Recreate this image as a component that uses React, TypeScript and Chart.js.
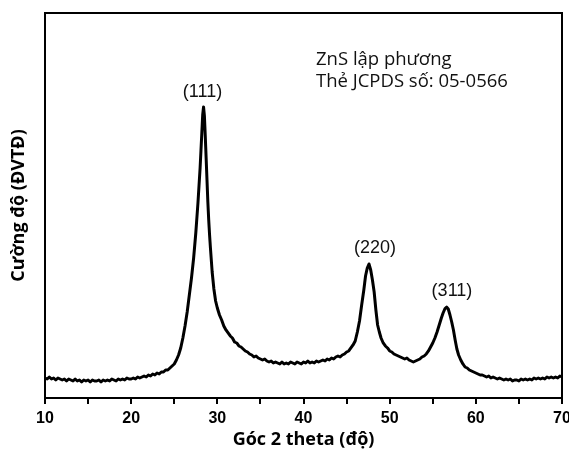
import React, { useEffect, useRef } from "react";
import { Chart, registerables } from "chart.js";

Chart.register(...registerables);

const twoTheta: number[] = [
  10.0, 10.25, 10.5, 10.75, 11.0, 11.25, 11.5, 11.75, 12.0, 12.25, 12.5, 12.75, 13.0, 13.25, 13.5, 13.75,
  14.0, 14.25, 14.5, 14.75, 15.0, 15.25, 15.5, 15.75, 16.0, 16.25, 16.5, 16.75, 17.0, 17.25, 17.5, 17.75,
  18.0, 18.25, 18.5, 18.75, 19.0, 19.25, 19.5, 19.75, 20.0, 20.25, 20.5, 20.75, 21.0, 21.25, 21.5, 21.75,
  22.0, 22.25, 22.5, 22.75, 23.0, 23.25, 23.5, 23.75, 24.0, 24.25, 24.5, 24.75, 25.0, 25.25, 25.5, 25.75,
  26.0, 26.25, 26.5, 26.75, 27.0, 27.25, 27.5, 27.75, 28.0, 28.2, 28.3, 28.4, 28.5, 28.6, 28.7, 28.8,
  28.9, 29.0, 29.1, 29.2, 29.4, 29.6, 29.8, 30.0, 30.25, 30.5, 30.75, 31.0, 31.25, 31.5, 31.75, 32.0, 32.25,
  32.5, 32.75, 33.0, 33.25, 33.5, 33.75, 34.0, 34.25, 34.5, 34.75, 35.0, 35.25, 35.5, 35.75, 36.0, 36.25,
  36.5, 36.75, 37.0, 37.25, 37.5, 37.75, 38.0, 38.25, 38.5, 38.75, 39.0, 39.25, 39.5, 39.75, 40.0, 40.25,
  40.5, 40.75, 41.0, 41.25, 41.5, 41.75, 42.0, 42.25, 42.5, 42.75, 43.0, 43.25, 43.5, 43.75, 44.0, 44.25,
  44.5, 44.75, 45.0, 45.25, 45.5, 45.75, 46.0, 46.25, 46.5, 46.75, 47.0, 47.2, 47.4, 47.6, 47.8, 48.0,
  48.2, 48.4, 48.6, 48.8, 49.0, 49.25, 49.5, 49.75, 50.0, 50.25, 50.5, 50.75, 51.0, 51.25, 51.5, 51.75,
  52.0, 52.25, 52.5, 52.75, 53.0, 53.25, 53.5, 53.75, 54.0, 54.25, 54.5, 54.75, 55.0, 55.25, 55.5, 55.75,
  56.0, 56.2, 56.4, 56.6, 56.8, 57.0, 57.2, 57.4, 57.6, 57.8, 58.0, 58.25, 58.5, 58.75, 59.0, 59.25,
  59.5, 59.75, 60.0, 60.25, 60.5, 60.75, 61.0, 61.25, 61.5, 61.75, 62.0, 62.25, 62.5, 62.75, 63.0, 63.25,
  63.5, 63.75, 64.0, 64.25, 64.5, 64.75, 65.0, 65.25, 65.5, 65.75, 66.0, 66.25, 66.5, 66.75, 67.0, 67.25,
  67.5, 67.75, 68.0, 68.25, 68.5, 68.75, 69.0, 69.25, 69.5, 69.75, 70.0,
];

const intensity: number[] = [
  20, 19, 21, 19, 20, 18, 20, 19, 18, 19, 17, 19, 18, 17, 19, 17,
  18, 16, 18, 17, 18, 16, 18, 17, 17, 18, 16, 18, 17, 18, 17, 19,
  18, 17, 19, 18, 19, 18, 20, 19, 19, 20, 19, 21, 20, 21, 22, 21,
  23, 22, 24, 23, 25, 24, 26, 26, 28, 28, 30, 32, 34, 38, 43, 50,
  60, 72, 86, 103, 120, 140, 165, 195, 230, 265, 283, 291, 282, 262, 240, 218,
  196, 178, 163, 150, 126, 109, 97, 90, 83, 78, 72, 68, 65, 62, 60, 56, 55,
  52, 51, 49, 47, 46, 44, 43, 41, 42, 40, 39, 38, 39, 37, 36, 37,
  35, 36, 35, 34, 36, 34, 35, 34, 36, 35, 34, 36, 35, 34, 36, 35,
  37, 35, 36, 35, 37, 36, 37, 38, 37, 39, 38, 40, 39, 41, 42, 41,
  43, 44, 46, 47, 50, 53, 57, 66, 77, 93, 108, 122, 130, 134, 128, 118,
  106, 88, 73, 66, 60, 55, 52, 50, 47, 46, 44, 43, 42, 41, 40, 39,
  40, 38, 37, 36, 37, 38, 39, 41, 42, 44, 47, 51, 55, 60, 66, 73,
  80, 85, 89, 91, 89, 83, 76, 68, 58, 49, 43, 38, 34, 31, 30, 28,
  27, 26, 25, 24, 23, 23, 22, 21, 22, 20, 21, 20, 19, 20, 19, 18,
  19, 18, 19, 17, 18, 18, 17, 19, 18, 19, 18, 19, 18, 20, 19, 20,
  19, 20, 19, 21, 20, 21, 20, 21, 20, 22, 21,
];

const peakLabels: string[] = ["(111)", "(220)", "(311)"];
const peakLabelX: number[] = [28.28, 48.3, 57.23];
const peakLabelY: number[] = [306, 150, 107];

const infoLines: string[] = ["ZnS lập phương", "Thẻ JCPDS số: 05-0566"];
const infoX = 41.45;
const infoY: number[] = [333, 311];

const xTitle = "Góc 2 theta (độ)";
const yTitle = "Cường độ (ĐVTĐ)";

const annotationPlugin = {
  id: "xrdAnnotations",
  afterDraw(chart: any) {
    const { ctx, chartArea, scales } = chart;
    const xs = scales.x;
    const ys = scales.y;
    ctx.save();
    ctx.strokeStyle = "#000";
    ctx.lineWidth = 2;
    ctx.beginPath();
    ctx.moveTo(chartArea.left, chartArea.top);
    ctx.lineTo(chartArea.right, chartArea.top);
    ctx.lineTo(chartArea.right, chartArea.bottom);
    ctx.stroke();

    ctx.fillStyle = "#111";
    ctx.font = "18px 'Liberation Sans', Arial, sans-serif";
    ctx.textAlign = "center";
    ctx.textBaseline = "middle";
    peakLabels.forEach((t, i) => {
      ctx.fillText(t, xs.getPixelForValue(peakLabelX[i]), ys.getPixelForValue(peakLabelY[i]));
    });

    ctx.font = "18.5px 'Open Sans', sans-serif";
    ctx.textAlign = "left";
    ctx.textBaseline = "alphabetic";
    infoLines.forEach((t, i) => {
      ctx.fillText(t, xs.getPixelForValue(infoX), ys.getPixelForValue(infoY[i]));
    });
    ctx.restore();
  },
};

export default function App() {
  const ref = useRef<HTMLCanvasElement | null>(null);

  useEffect(() => {
    if (!ref.current) return;
    const points = twoTheta.map((x, i) => ({ x, y: intensity[i] }));
    const chart = new Chart(ref.current, {
      type: "line",
      data: {
        datasets: [
          {
            data: points,
            borderColor: "#000",
            borderWidth: 3,
            borderJoinStyle: "round",
            borderCapStyle: "round",
            pointRadius: 0,
            tension: 0.001,
            fill: false,
          },
        ],
      },
      options: {
        animation: false,
        responsive: false,
        layout: { padding: { left: 0, right: 7, top: 13, bottom: 0 } },
        plugins: {
          legend: { display: false },
          tooltip: { enabled: false },
        },
        scales: {
          x: {
            type: "linear",
            min: 10,
            max: 70,
            afterFit(scale: any) {
              scale.paddingLeft = 0;
              scale.paddingRight = 0;
            },
            border: { display: true, color: "#000", width: 2 },
            grid: {
              display: true,
              drawOnChartArea: false,
              drawTicks: true,
              tickLength: 6,
              color: "#000",
              lineWidth: 2,
            },
            ticks: {
              stepSize: 5,
              autoSkip: false,
              maxRotation: 0,
              padding: 7,
              color: "#000",
              font: { family: "'Liberation Sans', Arial, sans-serif", size: 16, weight: "bold", lineHeight: 1 },
              callback: (v: any) => (Number(v) % 10 === 0 ? String(v) : ""),
            },
            title: {
              display: true,
              text: xTitle,
              color: "#000",
              font: { family: "'Open Sans', sans-serif", size: 18, weight: "bold", lineHeight: 0.6667 },
              padding: { top: 0, bottom: 4 },
            },
          },
          y: {
            min: 0,
            max: 385,
            border: { display: true, color: "#000", width: 2 },
            grid: { display: false, drawTicks: false },
            ticks: { display: false },
            title: {
              display: true,
              text: yTitle,
              color: "#000",
              font: { family: "'Open Sans', sans-serif", size: 18, weight: "bold", lineHeight: 1 },
              padding: { top: 10, bottom: 17 },
            },
          },
        },
      },
      plugins: [annotationPlugin],
    });
    return () => chart.destroy();
  }, []);

  return (
    <div style={{ position: "fixed", left: 0, top: 0, width: 569, height: 450, background: "#fff" }}>
      <canvas ref={ref} width={569} height={450} style={{ width: 569, height: 450 }} />
    </div>
  );
}
